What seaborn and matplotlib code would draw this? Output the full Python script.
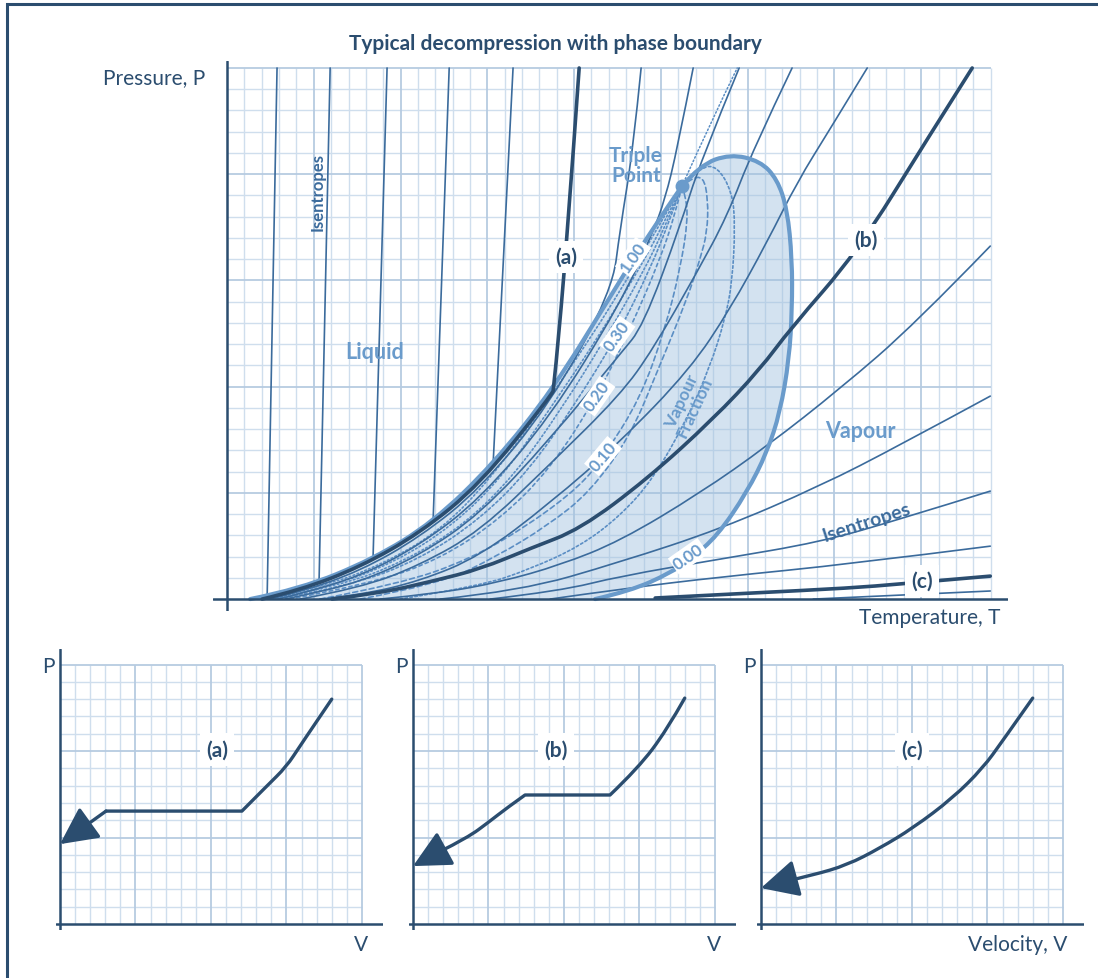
import numpy as np
import matplotlib
matplotlib.use('Agg')
import matplotlib.pyplot as plt
from matplotlib.patches import Rectangle, PathPatch
from matplotlib.path import Path
import seaborn as sns

# ---- phase envelope (T, P in grid units) ----
BUB_T = [1.33, 4.21, 8.41, 11.87, 15.33, 18.79, 22.25, 24.38, 26.22]
BUB_P = [0.00, 0.47, 1.88, 3.62, 6.35, 9.88, 14.45, 17.27, 19.44]
DEW_T = [26.22, 27.26, 28.99, 30.72, 31.70, 32.28, 32.56, 32.56, 32.39, 31.87, 31.12, 29.97, 28.24, 26.69, 25.53, 23.23, 21.21]
DEW_P = [19.44, 20.42, 20.94, 20.61, 19.76, 18.35, 16.00, 13.65, 11.29, 8.80, 6.92, 5.04, 2.96, 1.88, 1.22, 0.38, 0.00]
TRIPLE = (26.22, 19.44)

# vapour fraction lines
Q_LINES = {
    'q08': ([1.67, 5.36, 9.11, 12.39, 15.16, 17.93, 20.92, 23.23, 24.78, 26.22],
            [0.00, 0.52, 1.69, 3.29, 5.65, 8.71, 12.24, 15.29, 17.41, 19.44]),
    'q06': ([2.02, 5.94, 9.68, 12.97, 15.85, 18.44, 21.33, 23.57, 25.01, 26.22],
            [0.00, 0.56, 1.74, 3.44, 5.74, 8.75, 12.24, 15.29, 17.41, 19.44]),
    'q04': ([2.36, 6.51, 10.26, 13.72, 16.60, 19.19, 21.79, 23.92, 25.24, 26.22],
            [0.00, 0.61, 1.79, 3.53, 5.88, 8.85, 12.24, 15.29, 17.51, 19.44]),
    'q03': ([2.77, 7.09, 11.12, 14.58, 17.46, 20.06, 22.48, 24.38, 25.53, 26.22],
            [0.00, 0.61, 1.88, 3.76, 6.12, 9.18, 12.38, 15.53, 17.88, 19.44]),
    'q02': ([3.63, 8.24, 12.28, 15.73, 18.62, 21.33, 23.23, 24.96, 25.82, 26.22],
            [0.00, 0.71, 1.88, 3.76, 6.12, 9.55, 12.71, 16.00, 18.12, 19.44]),
    'q01': ([5.36, 9.97, 14.01, 17.46, 20.35, 21.67, 23.80, 25.24, 26.11, 26.57, 26.40, 26.22],
            [0.00, 0.71, 1.88, 3.53, 5.32, 6.68, 9.41, 12.71, 15.53, 17.88, 19.06, 19.44]),
    'q005': ([7.67, 12.28, 15.56, 18.44, 20.92, 23.23, 24.78, 26.51, 27.26, 27.67, 27.72, 27.44, 26.69, 26.22],
             [0.00, 0.71, 2.02, 3.44, 5.04, 7.67, 10.68, 14.12, 16.00, 17.27, 18.82, 19.91, 19.76, 19.44]),
    'q002': ([9.97, 14.58, 17.46, 20.35, 22.65, 24.55, 26.51, 27.84, 28.70, 29.11, 29.28, 29.11, 28.24, 27.26, 26.22],
             [0.00, 0.61, 1.41, 2.49, 3.91, 5.65, 8.47, 10.96, 13.18, 14.92, 17.55, 19.15, 20.38, 20.33, 19.44]),
}
Q_STYLE = {'q08': (0, (1, 1.5)), 'q06': (0, (1, 1.5)), 'q04': (0, (1, 1.5)), 'q03': (0, (1.5, 1.5)),
           'q02': (0, (2, 2)), 'q01': (0, (3, 2)), 'q005': (0, (3, 2)), 'q002': (0, (1.5, 1.5))}
EXT_T = [26.22, 27.90, 29.40]
EXT_P = [19.44, 22.50, 24.99]

# isentropes
LIQ = [([2.88, 2.31], [24.99, 0.14]),
       ([5.94, 5.30], [24.99, 0.80]),
       ([9.22, 8.41], [24.99, 1.88]),
       ([12.80, 11.87], [24.99, 3.62]),
       ([16.48, 15.33], [24.99, 6.35])]
MID = [([23.86, 23.40, 22.65, 22.19, 18.62, 14.58, 11.12, 7.67, 4.21, 2.48],
        [24.99, 21.18, 17.41, 14.49, 9.18, 5.18, 2.92, 1.32, 0.33, 0.00]),
       ([26.86, 25.94, 25.24, 24.50, 22.65, 18.62, 14.58, 11.12, 7.67, 4.21, 2.94],
        [24.99, 21.18, 18.82, 17.18, 13.88, 8.56, 4.71, 2.54, 1.08, 0.24, 0.00]),
       ([29.51, 27.26, 26.11, 23.98, 22.65, 18.62, 14.58, 11.12, 7.67, 4.21, 3.34],
        [24.99, 20.56, 17.55, 12.85, 11.53, 7.53, 4.00, 2.07, 0.80, 0.14, 0.00]),
       ([32.56, 30.32, 28.82, 27.09, 24.55, 22.65, 18.62, 14.58, 11.12, 7.67, 4.21],
        [24.99, 21.18, 18.02, 15.39, 11.76, 9.60, 6.35, 3.20, 1.60, 0.52, 0.00]),
       ([36.89, 34.75, 32.85, 31.12, 28.99, 26.69, 22.65, 18.62, 14.58, 11.12, 7.67, 5.36],
        [24.99, 22.12, 19.62, 16.80, 13.65, 10.82, 7.39, 4.52, 2.02, 0.85, 0.19, 0.00])]
VAP = [([8.82, 12.28, 15.73, 19.19, 22.65, 27.26, 31.12, 35.33, 39.65, 43.98],
        [0.00, 0.28, 0.80, 1.60, 2.73, 4.99, 7.20, 9.90, 12.95, 16.61]),
       ([12.28, 16.89, 22.65, 28.41, 34.18, 38.79, 43.98],
        [0.00, 0.38, 1.74, 3.29, 5.32, 7.25, 9.55]),
       ([15.16, 19.19, 22.65, 28.41, 34.18, 38.79, 43.98],
        [0.00, 0.38, 1.08, 1.88, 2.68, 3.76, 5.08]),
       ([18.62, 22.65, 28.41, 35.91, 43.98],
        [0.00, 0.47, 1.04, 1.65, 2.49]),
       ([33.78, 43.98], [0.00, 0.38])]
PATH_A = ([20.29, 19.60, 18.91, 18.79, 18.62, 14.58, 11.12, 7.67, 4.21, 2.02],
          [24.99, 16.94, 10.59, 9.79, 9.51, 5.41, 3.11, 1.51, 0.42, 0.00])
PATH_B = ([6.05, 8.82, 11.87, 14.58, 17.52, 20.35, 24.21, 28.01, 30.72, 32.45, 36.31, 40.35, 42.94],
          [0.00, 0.28, 0.85, 1.41, 2.40, 3.29, 5.65, 8.47, 10.82, 12.71, 16.33, 21.65, 24.99])
PATH_C = ([24.67, 30.14, 35.91, 38.79, 43.98],
          [0.05, 0.28, 0.52, 0.71, 1.08])

# P-V panels
PA_V = [18.0, 15.9, 15.0, 13.7, 12.05, 3.05, 0.0]
PA_P = [13.0, 10.3, 9.1, 7.98, 6.53, 6.53, 4.62]
PB_V = [18.0, 16.8, 14.9, 13.05, 7.42, 6.2, 5.1, 3.58, 1.8, 0.0]
PB_P = [13.06, 11.2, 9.0, 7.46, 7.46, 6.7, 5.95, 4.97, 4.2, 3.35]
PC_V = [18.0, 16.0, 14.7, 12.7, 10.07, 7.88, 5.7, 3.44, 1.72, 0.0]
PC_P = [13.06, 10.58, 9.02, 7.28, 5.55, 4.39, 3.41, 2.83, 2.49, 2.08]

NAVY = '#2b4d6f'
MID_BLUE = '#3b6b9c'
LIGHT = '#6a9bcb'
DOT = '#5b8ec4'
GRID = '#cfdeed'
GRID_MAJ = '#b6cbe1'

sns.set_style('white')
plt.rcParams['font.family'] = ['Lato', 'DejaVu Sans']


def line(ax, xs, ys, **kw):
    sns.lineplot(x=xs, y=ys, sort=False, estimator=None, ax=ax, legend=False, **kw)


def smooth_verts(xs, ys):
    # read points used as quadratic bezier controls, ends kept
    pts = list(zip(xs, ys))
    verts, codes = [pts[0]], [Path.MOVETO]
    if len(pts) == 2:
        return verts + [pts[1]], codes + [Path.LINETO]
    for i in range(1, len(pts) - 1):
        end = pts[-1] if i == len(pts) - 2 else ((pts[i][0] + pts[i + 1][0]) / 2, (pts[i][1] + pts[i + 1][1]) / 2)
        verts += [pts[i], end]
        codes += [Path.CURVE3, Path.CURVE3]
    return verts, codes


def curve(ax, xs, ys, corners=(), **kw):
    cuts = [0] + list(corners) + [len(xs) - 1]
    verts, codes = [], []
    for a, b in zip(cuts[:-1], cuts[1:]):
        v, c = smooth_verts(xs[a:b + 1], ys[a:b + 1])
        if verts:
            c[0] = Path.LINETO
        verts += v
        codes += c
    ax.add_patch(PathPatch(Path(verts, codes), fill=False, capstyle='round', joinstyle='round', **kw))


def paper(ax, nx, ny):
    minor_x = [i for i in range(1, nx + 1) if i % 5]
    major_x = [i for i in range(5, nx + 1, 5)]
    minor_y = [i for i in range(1, ny + 1) if i % 5]
    major_y = [i for i in range(5, ny + 1, 5)]
    ax.vlines(minor_x, 0, ny, color=GRID, lw=1.0, zorder=1)
    ax.hlines(minor_y, 0, nx, color=GRID, lw=1.0, zorder=1)
    ax.vlines(major_x, 0, ny, color=GRID_MAJ, lw=1.3, zorder=1)
    ax.hlines(major_y, 0, nx, color=GRID_MAJ, lw=1.3, zorder=1)
    ax.axvline(0, color=NAVY, lw=1.8, zorder=8)
    ax.axhline(0, color=NAVY, lw=1.8, zorder=8)
    ax.axis('off')


fig = plt.figure(figsize=(10.98, 9.79), dpi=100)
fig.patches.append(Rectangle((7 / 1098, -0.02), 1.05, 1 - 5 / 979 + 0.02, transform=fig.transFigure,
                             fill=False, lw=2.2, ec=NAVY))

# ---- main T-P chart ----
ax = fig.add_axes([0.194, 0.3749, 0.724, 0.5618])
ax.set_xlim(-0.81, 45.0)
ax.set_ylim(-0.56, 25.32)
paper(ax, 44, 25)

ENV_T = BUB_T + DEW_T[1:]
ENV_P = BUB_P + DEW_P[1:]
n_bub = len(BUB_T) - 1
ev, ec = [], []
for a, b in ((0, n_bub), (n_bub, len(ENV_T) - 1)):
    v, c = smooth_verts(ENV_T[a:b + 1], ENV_P[a:b + 1])
    if ev:
        c[0] = Path.LINETO
    ev += v
    ec += c
ax.add_patch(PathPatch(Path(ev + [ev[0]], ec + [Path.CLOSEPOLY]), fc='#9fc0de', alpha=0.45, lw=0, zorder=2))

for key, (qt, qp) in Q_LINES.items():
    curve(ax, qt, qp, ec=DOT, lw=1.2, linestyle=Q_STYLE[key], zorder=3)
curve(ax, EXT_T, EXT_P, ec=DOT, lw=1.1, linestyle=(0, (1, 1.5)), zorder=3)

for it, ip in LIQ:
    line(ax, it, ip, color=MID_BLUE, lw=1.2, zorder=4)
for it, ip in MID + VAP:
    curve(ax, it, ip, ec=MID_BLUE, lw=1.2, zorder=4)

curve(ax, ENV_T, ENV_P, corners=[n_bub], ec=LIGHT, lw=3.0, zorder=5)
ax.plot(*TRIPLE, 'o', ms=9, color=LIGHT, zorder=6)

curve(ax, *PATH_A, corners=[3], ec=NAVY, lw=2.6, zorder=6)
curve(ax, *PATH_B, ec=NAVY, lw=2.6, zorder=6)
curve(ax, *PATH_C, ec=NAVY, lw=2.6, zorder=6)

lab = dict(fontweight='bold', zorder=9, ha='center', va='center')
wbox = dict(boxstyle='square,pad=0.3', fc='white', ec='none')
ax.text(5.24, 19.2, 'Isentropes', rotation=90, color=MID_BLUE, fontsize=12, **lab)
ax.text(36.83, 3.62, 'Isentropes', rotation=18, color=MID_BLUE, fontsize=14, **lab)
ax.text(8.53, 11.67, 'Liquid', color=LIGHT, fontsize=15.5, **lab)
ax.text(36.48, 7.91, 'Vapour', color=LIGHT, fontsize=15.5, **lab)
ax.text(23.57, 20.42, 'Triple\nPoint', color=LIGHT, fontsize=15, linespacing=1.0, **lab)
ax.text(26.57, 9.18, 'Vapour\nFraction', rotation=65, color=LIGHT, fontsize=12.5, linespacing=0.85, **lab)
ax.text(19.54, 16.09, '(a)', color=NAVY, fontsize=15, bbox=wbox, **lab)
ax.text(36.83, 16.89, '(b)', color=NAVY, fontsize=15, bbox=wbox, **lab)
ax.text(40.06, 0.85, '(c)', color=NAVY, fontsize=15, bbox=wbox, **lab)

Q_LABELS = ['1.00', '0.30', '0.20', '0.10', '0.00']
Q_LAB_T = [23.40, 22.48, 21.33, 21.67, 26.57]
Q_LAB_P = [16.09, 12.38, 9.55, 6.73, 2.02]
Q_LAB_ROT = [55, 55, 55, 50, 35]
for s, qt, qp, r in zip(Q_LABELS, Q_LAB_T, Q_LAB_P, Q_LAB_ROT):
    ax.text(qt, qp, s, rotation=r, color=LIGHT, fontsize=12,
            bbox=dict(boxstyle='square,pad=0.1', fc='white', ec='none'), **lab)

fig.text(0.5055, 0.955, 'Typical decompression with phase boundary', ha='center', va='center',
         fontsize=15, fontweight='bold', color=NAVY)
fig.text(0.1867, 0.920, 'Pressure, P', ha='right', va='center', fontsize=15, color=NAVY)
fig.text(0.9107, 0.3687, 'Temperature, T', ha='right', va='center', fontsize=15, color=NAVY)

# ---- P-V panels ----
panels = [(0.0512, PA_V, PA_P, [4, 5], '(a)', 10.4, 'V'),
          (0.3727, PB_V, PB_P, [3, 4], '(b)', 9.5, 'V'),
          (0.6896, PC_V, PC_P, [], '(c)', 10.0, 'Velocity, V')]
for left, pv, pp, corners, name, lx, xlab in panels:
    pax = fig.add_axes([left, 0.0489, 0.2977, 0.2872])
    pax.set_xlim(-0.25, 21.4)
    pax.set_ylim(-0.35, 15.9)
    paper(pax, 20, 15)
    curve(pax, pv[:-1], pp[:-1], corners=corners, ec=NAVY, lw=2.4, zorder=6)
    pax.annotate('', xy=(pv[-1], pp[-1]), xytext=(pv[-2], pp[-2]), zorder=7,
                 arrowprops=dict(arrowstyle='-|>,head_length=1.1,head_width=0.55', mutation_scale=21,
                                 lw=2.4, color=NAVY, shrinkA=0, shrinkB=0))
    pax.text(lx, 10.1, name, color=NAVY, fontsize=15, bbox=wbox, **lab)
    fig.text(left - 0.0075, 0.3187, 'P', ha='center', va='center', fontsize=15, color=NAVY)
    if xlab == 'V':
        fig.text(left + 0.2772, 0.0347, xlab, ha='center', va='center', fontsize=15, color=NAVY)
    else:
        fig.text(left + 0.2822, 0.0347, xlab, ha='right', va='center', fontsize=15, color=NAVY)

fig.savefig('out.png', dpi=100)
